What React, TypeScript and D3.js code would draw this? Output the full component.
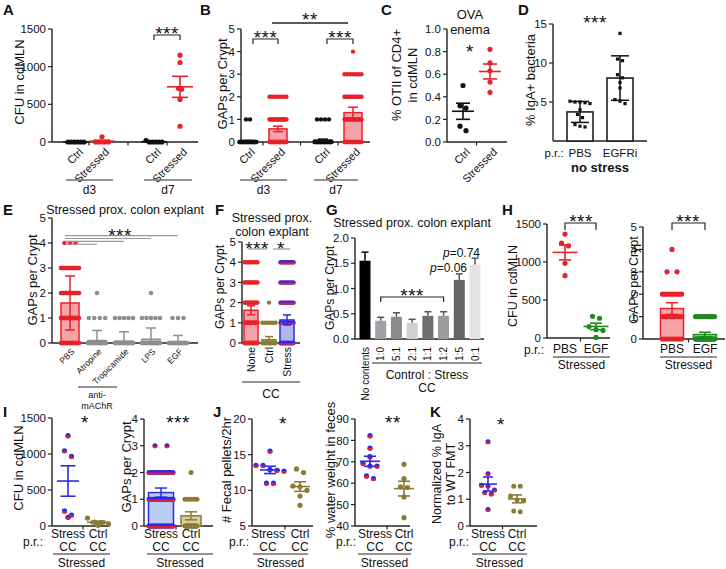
import React from "react";
import * as d3 from "d3";

// ---------------- data ----------------
// A: CFU in cdMLN
const aCategories = ["Ctrl", "Stressed", "Ctrl", "Stressed"];
const aDays = ["d3", "d7"];
const aCtrlD3 = [0, 0, 0, 0, 0, 0];
const aStressedD3 = [70, 0, 0, 0, 0, 0];
const aCtrlD7 = [20, 0, 0, 0, 0, 0];
const aStressedD7 = [1153, 1055, 712, 700, 565, 209];
const aTicks = [0, 500, 1000, 1500];

// B: GAPs per crypt (number of crypts at 0,1,2,... GAPs)
const bCategories = ["Ctrl", "Stressed", "Ctrl", "Stressed"];
const bCtrlD3Counts = [30, 2];
const bStressedD3Counts = [30, 18, 8];
const bCtrlD7Counts = [30, 4];
const bStressedD7Counts = [25, 20, 10, 7, 1];
const bMeans = [0.04, 0.58, 0.08, 1.3];
const bSem = [0.03, 0.12, 0.05, 0.24];
const bTicks = [0, 1, 2, 3, 4, 5];

// C: % OTII of CD4+
const cCategories = ["Ctrl", "Stressed"];
const cCtrl = [0.5, 0.32, 0.3, 0.14, 0.1];
const cStressed = [0.82, 0.7, 0.63, 0.53, 0.44];
const cTicks = [0, 0.2, 0.4, 0.6, 0.8, 1.0];

// D: % IgA+ bacteria
const dCategories = ["PBS", "EGFRi"];
const dPBS = [5.1, 5.0, 5.0, 4.9, 4.8, 4.0, 3.4, 3.0, 2.1, 1.9, 1.8];
const dEGFRi = [13.8, 10.5, 10.3, 8.5, 8.1, 7.5, 6.8, 5.3, 5.1, 4.8];
const dTicks = [5, 10, 15];

// E: explant treatments
const eCategories = ["PBS", "Atropine", "Tropicamide", "LPS", "EGF"];
const eCounts = [[30, 30, 20, 20, 3], [30, 4, 1], [30, 5], [30, 5, 1], [30, 3]];
const eMeans = [1.6, 0.1, 0.07, 0.15, 0.05];
const eSD = [1.08, 0.4, 0.38, 0.45, 0.25];
const eTicks = [0, 1, 2, 3, 4, 5];

// F: colon contents
const fCategories = ["None", "Ctrl", "Stress"];
const fCounts = [[30, 20, 15, 10, 8], [30, 6, 1], [25, 10, 10, 8, 8]];
const fMeans = [1.62, 0.16, 1.14];
const fSem = [0.22, 0.16, 0.25];
const fTicks = [0, 1, 2, 3, 4, 5];

// G: mixing ratios
const gCategories = ["No contents", "1:0", "5:1", "2:1", "1:1", "1:2", "1:5", "0:1"];
const gMeans = [1.55, 0.36, 0.44, 0.32, 0.46, 0.46, 1.17, 1.47];
const gSem = [0.17, 0.07, 0.08, 0.07, 0.08, 0.08, 0.12, 0.13];
const gTicks = [0, 0.5, 1.0, 1.5, 2.0];

// H
const hCategories = ["PBS", "EGF"];
const hCfuPBS = [1367, 1248, 1213, 983, 820];
const hCfuEGF = [285, 260, 150, 110, 100, 8];
const hGapCounts = [[8, 8, 7, 2, 1], [22, 10]];
const hGapMeans = [1.36, 0.2];
const hGapSem = [0.26, 0.1];
const hCfuTicks = [0, 500, 1000, 1500];
const hGapTicks = [0, 1, 2, 3, 4, 5];

// I
const iCategories = [["Stress", "CC"], ["Ctrl", "CC"]];
const iCfuStress = [1254, 1045, 966, 209, 153, 121];
const iCfuCtrl = [110, 55, 50, 30, 10];
const iGapCounts = [[20, 15, 15, 2], [20, 5, 1]];
const iGapMeans = [1.25, 0.38];
const iGapSem = [0.17, 0.15];
const iCfuTicks = [0, 500, 1000, 1500];
const iGapTicks = [0, 1, 2, 3, 4];

// J
const jPelletStress = [15.5, 13.5, 13.5, 12.9, 12.8, 12.7, 11, 11];
const jPelletCtrl = [13, 12.5, 10.6, 10.5, 10, 9.2, 7.9];
const jWaterStress = [82.2, 76.4, 72.4, 69.3, 68, 68, 63.4, 62.2];
const jWaterCtrl = [68.8, 62.2, 58.3, 58, 53.6, 43.9];
const jPelletTicks = [5, 10, 15, 20];
const jWaterTicks = [40, 50, 60, 70, 80, 90];

// K
const kStress = [3.15, 1.95, 1.52, 1.5, 1.35, 1.25, 1.2, 0.62];
const kCtrl = [1.49, 1.49, 1.12, 0.97, 0.93, 0.56, 0.53];
const kTicks = [0, 1, 2, 3, 4];

// ---------------- styles ----------------
const FONT = "'Liberation Sans', Arial, Helvetica, sans-serif";
const RED = "#e8212b";
const PINK = "#f5a3a8";
const BLUE = "#2b2bea";
const LAV = "#b4b4f4";
const LBLUE = "#b9ccf2";
const OLIVE = "#8b7b35";
const TAN = "#d7cda0";
const GREEN = "#1f8a1f";
const LGREEN = "#a6daa6";
const GREY = "#8e8e8e";
const LGREY = "#d6d6d6";
const INK = "#111";
const AXC = "#222";
const GLINE = "#6f6f6f";
const gFills = ["#000", "#a0a0a6", "#8c8c8c", "#cfcfcf", "#6e6e6e", "#9c9c9c", "#646464", "#e4e4e4"];

type P = { x: number; y: number };
type Lin = d3.ScaleLinear<number, number>;

function clusterSwarm(vals: number[], y: Lin, cx: number, d: number): P[] {
  const ys = vals.map((v) => y(v)).sort((a, b) => a - b);
  const out: P[] = [];
  let i = 0;
  while (i < ys.length) {
    let j = i + 1;
    while (j < ys.length && ys[j] - ys[i] < d * 0.9) j++;
    const m = j - i;
    for (let k = 0; k < m; k++) out.push({ x: cx + (k - (m - 1) / 2) * d, y: ys[i + k] });
    i = j;
  }
  return out;
}

function rowDots(counts: number[], cx: number, y: Lin, maxW: number, sp: number): P[] {
  const out: P[] = [];
  counts.forEach((n, level) => {
    const w = Math.min((n - 1) * sp, maxW);
    for (let k = 0; k < n; k++) out.push({ x: n > 1 ? cx - w / 2 + (k * w) / (n - 1) : cx, y: y(level) });
  });
  return out;
}

function Dots({ pts, r, color, two }: { pts: P[]; r: number; color: string; two?: boolean }) {
  return (
    <g>
      {pts.map((p, i) =>
        two ? (
          <g key={i}>
            <circle cx={p.x} cy={p.y} r={r} fill={BLUE} />
            <path d={`M${p.x - r},${p.y} A${r},${r} 0 0 0 ${p.x + r},${p.y} Z`} fill={RED} />
          </g>
        ) : (
          <circle key={i} cx={p.x} cy={p.y} r={r} fill={color} />
        )
      )}
    </g>
  );
}

function YAxis({ x, y, ticks, fmt, fs = 11.5 }: { x: number; y: Lin; ticks: number[]; fmt: (t: number) => string; fs?: number }) {
  const [d0, d1] = y.domain();
  return (
    <g>
      <line x1={x} x2={x} y1={y(d0)} y2={y(d1)} stroke={AXC} strokeWidth={1.4} />
      {ticks.map((t, i) => (
        <g key={i}>
          <line x1={x - 4} x2={x} y1={y(t)} y2={y(t)} stroke={AXC} strokeWidth={1.2} />
          <text x={x - 6} y={y(t)} dy="0.36em" textAnchor="end" fontSize={fs}>
            {fmt(t)}
          </text>
        </g>
      ))}
    </g>
  );
}

function XAxis({ x0, x1, y, between }: { x0: number; x1: number; y: number; between: number[] }) {
  return (
    <g>
      <line x1={x0} x2={x1} y1={y} y2={y} stroke={AXC} strokeWidth={1.4} />
      {between.map((b, i) => (
        <line key={i} x1={b} x2={b} y1={y} y2={y + 3.5} stroke={AXC} strokeWidth={1.2} />
      ))}
    </g>
  );
}

function mids(xs: number[]) {
  return xs.slice(1).map((x, i) => (x + xs[i]) / 2);
}

function YLabel({ lines, x, yc, fs = 13, lh = 1.25 }: { lines: string[]; x: number; yc: number; fs?: number; lh?: number }) {
  return (
    <text transform={`translate(${x},${yc}) rotate(-90)`} textAnchor="middle" fontSize={fs}>
      {lines.map((l, i) => (
        <tspan key={i} x={0} dy={i === 0 ? "0.35em" : `${lh}em`}>
          {l}
        </tspan>
      ))}
    </text>
  );
}

function Stars({ text, x, yc, fs = 19 }: { text: string; x: number; yc: number; fs?: number }) {
  return (
    <text x={x} y={yc + 0.57 * fs} textAnchor="middle" fontSize={fs} letterSpacing={0.5}>
      {text}
    </text>
  );
}

function Bracket({ x1, x2, y, drop = 5 }: { x1: number; x2: number; y: number; drop?: number }) {
  return <path d={`M${x1},${y + drop}V${y}H${x2}V${y + drop}`} fill="none" stroke={AXC} strokeWidth={1.2} />;
}

function MeanSem({ vals, cx, y, color, meanW, capW }: { vals: number[]; cx: number; y: Lin; color: string; meanW: number; capW: number }) {
  const m = d3.mean(vals) as number;
  const s = (d3.deviation(vals) || 0) / Math.sqrt(vals.length);
  return (
    <g stroke={color} strokeWidth={1.6}>
      <line x1={cx - meanW / 2} x2={cx + meanW / 2} y1={y(m)} y2={y(m)} />
      <line x1={cx} x2={cx} y1={y(m + s)} y2={y(Math.max(m - s, y.domain()[0]))} />
      <line x1={cx - capW / 2} x2={cx + capW / 2} y1={y(m + s)} y2={y(m + s)} />
      {m - s > y.domain()[0] && <line x1={cx - capW / 2} x2={cx + capW / 2} y1={y(m - s)} y2={y(m - s)} />}
    </g>
  );
}

function Bar({ cx, w, y, mean, stroke, fill }: { cx: number; w: number; y: Lin; mean: number; stroke: string; fill: string }) {
  const y0 = y(y.domain()[0]);
  return (
    <rect x={cx - w / 2} y={y(mean)} width={w} height={Math.max(y0 - y(mean), 0.8)} fill={fill} stroke={stroke} strokeWidth={1.5} />
  );
}

function ErrBar({ cx, capW, y, mean, err, color, both = true }: { cx: number; capW: number; y: Lin; mean: number; err: number; color: string; both?: boolean }) {
  const lo = Math.max(mean - err, y.domain()[0]);
  return (
    <g stroke={color} strokeWidth={1.5}>
      <line x1={cx} x2={cx} y1={y(mean + err)} y2={both ? y(lo) : y(mean)} />
      <line x1={cx - capW / 2} x2={cx + capW / 2} y1={y(mean + err)} y2={y(mean + err)} />
      {both && mean - err > y.domain()[0] && <line x1={cx - capW / 2} x2={cx + capW / 2} y1={y(lo)} y2={y(lo)} />}
    </g>
  );
}

function RotLabel({ x, y, text, angle, fs }: { x: number; y: number; text: string; angle: number; fs: number }) {
  return (
    <text transform={`translate(${x},${y}) rotate(${angle})`} textAnchor="end" fontSize={fs} dy="0.35em">
      {text}
    </text>
  );
}

function GroupLine({ x1, x2, y, label, ly, fs = 12, bold = false }: { x1: number; x2: number; y: number; label: string; ly: number; fs?: number; bold?: boolean }) {
  return (
    <g>
      <line x1={x1} x2={x2} y1={y} y2={y} stroke={GLINE} strokeWidth={1.3} />
      <text x={(x1 + x2) / 2} y={ly} textAnchor="middle" fontSize={fs} fontWeight={bold ? "bold" : "normal"}>
        {label}
      </text>
    </g>
  );
}

function TwoLine({ x, y, lines, fs = 12 }: { x: number; y: number; lines: string[]; fs?: number }) {
  return (
    <text x={x} y={y} textAnchor="middle" fontSize={fs}>
      {lines.map((l, i) => (
        <tspan key={i} x={x} dy={i === 0 ? 0 : "1.1em"}>
          {l}
        </tspan>
      ))}
    </text>
  );
}

function Letter({ x, y, t }: { x: number; y: number; t: string }) {
  return (
    <text x={x} y={y} fontSize={15} fontWeight="bold">
      {t}
    </text>
  );
}

const fmtInt = (t: number) => String(t);
const fmt1 = (t: number) => t.toFixed(1);

export default function App() {
  // ---- A ----
  const aY = d3.scaleLinear().domain([0, 1500]).range([142, 29]);
  const aSlot = d3.scaleLinear().domain([0, 1]).range([76, 102]);
  const aPos = [0, 1, 3, 4].map((s) => aSlot(s));
  const aSeries = [aCtrlD3, aStressedD3, aCtrlD7, aStressedD7];
  const aColors = [INK, RED, INK, RED];

  // ---- B ----
  const bY = d3.scaleLinear().domain([0, 5]).range([142, 29]);
  const bSlot = d3.scaleLinear().domain([0, 1]).range([248, 278]);
  const bPos = [0, 1, 2.5, 3.5].map((s) => bSlot(s));
  const bCounts = [bCtrlD3Counts, bStressedD3Counts, bCtrlD7Counts, bStressedD7Counts];
  const bColors = [INK, RED, INK, RED];
  const bFills = ["#9a9a9a", PINK, "#9a9a9a", PINK];

  // ---- C ----
  const cY = d3.scaleLinear().domain([0, 1]).range([142, 29]);
  const cX = d3.scalePoint<string>().domain(cCategories).range([463, 490]);

  // ---- D ----
  const dY = d3.scaleLinear().domain([0, 15]).range([141, 24]);
  const dX = d3.scalePoint<string>().domain(dCategories).range([580, 620]);
  const dSeries = [dPBS, dEGFRi];

  // ---- E ----
  const eY = d3.scaleLinear().domain([0, 5]).range([343, 218]);
  const eX = d3.scalePoint<string>().domain(eCategories).range([70, 178]);

  // ---- F ----
  const fY = d3.scaleLinear().domain([0, 5]).range([343, 242]);
  const fX = d3.scalePoint<string>().domain(fCategories).range([251, 287]);
  const fColors = [RED, OLIVE, BLUE];
  const fFills = [PINK, TAN, LAV];

  // ---- G ----
  const gY = d3.scaleLinear().domain([0, 2]).range([339, 238]);
  const gX = d3.scalePoint<string>().domain(gCategories).range([365, 475]);

  // ---- H ----
  const hY1 = d3.scaleLinear().domain([0, 1500]).range([338, 224]);
  const hX1 = d3.scalePoint<string>().domain(hCategories).range([565, 596]);
  const hY2 = d3.scaleLinear().domain([0, 5]).range([339, 227]);
  const hX2 = d3.scalePoint<string>().domain(hCategories).range([672, 705]);

  // ---- I ----
  const iKeys = iCategories.map((c) => c.join(" "));
  const iY1 = d3.scaleLinear().domain([0, 1500]).range([526, 418]);
  const iX1 = d3.scalePoint<string>().domain(iKeys).range([68, 98]);
  const iY2 = d3.scaleLinear().domain([0, 4]).range([526, 419]);
  const iX2 = d3.scalePoint<string>().domain(iKeys).range([161, 191]);

  // ---- J ----
  const jY1 = d3.scaleLinear().domain([5, 20]).range([526, 419]);
  const jX1 = d3.scalePoint<string>().domain(iKeys).range([270, 300]);
  const jY2 = d3.scaleLinear().domain([40, 90]).range([526, 419]);
  const jX2 = d3.scalePoint<string>().domain(iKeys).range([370, 404]);

  // ---- K ----
  const kY = d3.scaleLinear().domain([0, 4]).range([526, 419]);
  const kX = d3.scalePoint<string>().domain(iKeys).range([488, 517]);

  return (
    <svg width={726} height={569} style={{ position: "absolute", left: 0, top: 0, background: "#fff" }} fontFamily={FONT} fill={INK}>
      <rect x={0} y={0} width={726} height={569} fill="#fff" />

      {/* ================= A ================= */}
      <Letter x={3} y={15} t="A" />
      <YLabel lines={["CFU in cdMLN"]} x={19} yc={82} />
      <YAxis x={52} y={aY} ticks={aTicks} fmt={fmtInt} />
      <XAxis x0={52} x1={198} y={142} between={mids(aPos)} />
      {aSeries.map((s, i) => (
        <g key={i}>
          <Dots pts={clusterSwarm(s, aY, aPos[i], 3.2)} r={2.6} color={aColors[i]} />
          <MeanSem vals={s} cx={aPos[i]} y={aY} color={aColors[i]} meanW={26} capW={16} />
          <RotLabel x={aPos[i] + 5} y={150} text={aCategories[i]} angle={-45} fs={11} />
        </g>
      ))}
      <Bracket x1={aPos[2]} x2={aPos[3]} y={35} />
      <Stars text="***" x={(aPos[2] + aPos[3]) / 2} yc={29} />
      <GroupLine x1={66} x2={113} y={180} label={aDays[0]} ly={194} />
      <GroupLine x1={144} x2={192} y={180} label={aDays[1]} ly={194} />

      {/* ================= B ================= */}
      <Letter x={200} y={15} t="B" />
      <YLabel lines={["GAPs per Crypt"]} x={222} yc={84} />
      <YAxis x={241} y={bY} ticks={bTicks} fmt={fmtInt} />
      <XAxis x0={241} x1={370} y={142} between={mids(bPos)} />
      {bCounts.map((c, i) => (
        <g key={i}>
          <Bar cx={bPos[i]} w={18} y={bY} mean={bMeans[i]} stroke={bColors[i]} fill={bFills[i]} />
          <Dots pts={rowDots(c, bPos[i], bY, 17, 4)} r={2.2} color={bColors[i]} />
          <ErrBar cx={bPos[i]} capW={10} y={bY} mean={bMeans[i]} err={bSem[i]} color={bColors[i]} />
          <RotLabel x={bPos[i] + 5} y={150} text={bCategories[i]} angle={-45} fs={11} />
        </g>
      ))}
      <Bracket x1={253} x2={bPos[1]} y={39} />
      <Stars text="***" x={(253 + bPos[1]) / 2} yc={33} />
      <Bracket x1={327} x2={bPos[3]} y={39} />
      <Stars text="***" x={(327 + bPos[3]) / 2} yc={33} />
      <line x1={272} x2={348} y1={23} y2={23} stroke={AXC} strokeWidth={1.6} />
      <Stars text="**" x={310} yc={15} />
      <GroupLine x1={240} x2={287} y={180} label={aDays[0]} ly={194} />
      <GroupLine x1={314} x2={358} y={180} label={aDays[1]} ly={194} />

      {/* ================= C ================= */}
      <Letter x={381} y={15} t="C" />
      <text x={470} y={19} textAnchor="middle" fontSize={13}>OVA</text>
      <text x={470} y={34} textAnchor="middle" fontSize={13}>enema</text>
      <YLabel lines={["% OTII of CD4+", "in cdMLN"]} x={396} yc={75} />
      <YAxis x={447} y={cY} ticks={cTicks} fmt={fmt1} />
      <XAxis x0={447} x1={507} y={142} between={mids(cCategories.map((c) => cX(c) as number))} />
      {[cCtrl, cStressed].map((s, i) => {
        const cx = cX(cCategories[i]) as number;
        const col = i === 0 ? INK : RED;
        return (
          <g key={i}>
            <Dots pts={clusterSwarm(s, cY, cx, 6)} r={2.6} color={col} />
            <MeanSem vals={s} cx={cx} y={cY} color={col} meanW={22} capW={14} />
            <RotLabel x={cx + 5} y={150} text={cCategories[i]} angle={-45} fs={11} />
          </g>
        );
      })}
      <Stars text="*" x={470} yc={47} />

      {/* ================= D ================= */}
      <Letter x={518} y={15} t="D" />
      <YLabel lines={["% IgA+ bacteria"]} x={530} yc={80} />
      <YAxis x={553} y={dY} ticks={dTicks} fmt={fmtInt} />
      <line x1={553} x2={647} y1={141} y2={141} stroke={AXC} strokeWidth={1.4} />
      {dSeries.map((s, i) => {
        const cx = dX(dCategories[i]) as number;
        const m = d3.mean(s) as number;
        const sd = d3.deviation(s) as number;
        return (
          <g key={i}>
            <Bar cx={cx} w={26} y={dY} mean={m} stroke={INK} fill="#fff" />
            {clusterSwarm(s, dY, cx, 5).map((p, k) => (
              <rect key={k} x={p.x - 1.6} y={p.y - 1.6} width={3.2} height={3.2} fill={INK} />
            ))}
            <ErrBar cx={cx} capW={18} y={dY} mean={m} err={sd} color={INK} />
            <text x={cx} y={157} textAnchor="middle" fontSize={11.5}>{dCategories[i]}</text>
          </g>
        );
      })}
      <text x={554} y={157} textAnchor="middle" fontSize={11.5}>p.r.:</text>
      <text x={600} y={172} textAnchor="middle" fontSize={13} fontWeight="bold">no stress</text>
      <Stars text="***" x={595} yc={18} />

      {/* ================= E ================= */}
      <Letter x={3} y={215} t="E" />
      <text x={125} y={214} textAnchor="middle" fontSize={12.5}>Stressed prox. colon explant</text>
      <YLabel lines={["GAPs per Crypt"]} x={32} yc={280} />
      <YAxis x={52} y={eY} ticks={eTicks} fmt={fmtInt} />
      <XAxis x0={52} x1={198} y={343} between={[]} />
      {eCategories.map((c, i) => {
        const cx = eX(c) as number;
        const col = i === 0 ? RED : GREY;
        const fill = i === 0 ? PINK : LGREY;
        return (
          <g key={c}>
            <Bar cx={cx} w={18} y={eY} mean={eMeans[i]} stroke={col} fill={fill} />
            <Dots pts={rowDots(eCounts[i], cx, eY, 18, 5.5)} r={2.3} color={col} />
            <ErrBar cx={cx} capW={10} y={eY} mean={eMeans[i]} err={eSD[i]} color={col} />
            <RotLabel x={cx + 3} y={350} text={c} angle={-45} fs={8.5} />
          </g>
        );
      })}
      {eCategories.slice(1).map((c, i) => (
        <line key={c} x1={65} x2={eX(c) as number} y1={244.3 - i * 2.9} y2={244.3 - i * 2.9} stroke="#999" strokeWidth={1.1} />
      ))}
      <Stars text="***" x={120} yc={231} />
      <line x1={78} x2={117} y1={387} y2={387} stroke={GLINE} strokeWidth={1.3} />
      <text x={97} y={398} textAnchor="middle" fontSize={9}>anti-</text>
      <text x={97} y={409} textAnchor="middle" fontSize={9}>mAChR</text>

      {/* ================= F ================= */}
      <Letter x={215} y={215} t="F" />
      <text x={272} y={222} textAnchor="middle" fontSize={12.5}>Stressed prox.</text>
      <text x={272} y={236} textAnchor="middle" fontSize={12.5}>colon explant</text>
      <YLabel lines={["GAPs per Crypt"]} x={220} yc={287} fs={12} />
      <YAxis x={242} y={fY} ticks={fTicks} fmt={fmtInt} />
      <XAxis x0={242} x1={300} y={343} between={[]} />
      {fCategories.map((c, i) => {
        const cx = fX(c) as number;
        return (
          <g key={c}>
            <Bar cx={cx} w={14} y={fY} mean={fMeans[i]} stroke={fColors[i]} fill={fFills[i]} />
            <Dots pts={rowDots(fCounts[i], cx, fY, 13, 4)} r={2.2} color={fColors[i]} two={i === 2} />
            <ErrBar cx={cx} capW={8} y={fY} mean={fMeans[i]} err={fSem[i]} color={fColors[i]} />
            <RotLabel x={cx} y={347} text={c} angle={-90} fs={10.5} />
          </g>
        );
      })}
      <line x1={248} x2={267} y1={249} y2={249} stroke="#999" strokeWidth={1.3} />
      <Stars text="***" x={257} yc={244} />
      <line x1={273} x2={290} y1={249} y2={249} stroke="#999" strokeWidth={1.3} />
      <Stars text="*" x={281} yc={244} />
      <GroupLine x1={242} x2={300} y={382} label="CC" ly={398} />

      {/* ================= G ================= */}
      <Letter x={326} y={215} t="G" />
      <text x={412} y={227} textAnchor="middle" fontSize={12.5}>Stressed prox. colon explant</text>
      <YLabel lines={["GAPs per Crypt"]} x={330} yc={288} fs={12} />
      <YAxis x={355} y={gY} ticks={gTicks} fmt={fmt1} />
      <XAxis x0={355} x1={484} y={339} between={[]} />
      {gCategories.map((c, i) => {
        const cx = gX(c) as number;
        return (
          <g key={c}>
            <ErrBar cx={cx} capW={7} y={gY} mean={gMeans[i]} err={gSem[i]} color={i === 0 ? "#000" : "#555"} both={false} />
            <rect x={cx - 5.5} y={gY(gMeans[i])} width={11} height={339 - gY(gMeans[i])} fill={gFills[i]} />
            <RotLabel x={cx} y={347} text={c} angle={-90} fs={10} />
          </g>
        );
      })}
      <Bracket x1={gX("1:0") as number} x2={gX("1:2") as number} y={297} />
      <Stars text="***" x={((gX("1:0") as number) + (gX("1:2") as number)) / 2} yc={291} />
      <text x={467} y={272} textAnchor="end" fontSize={12}>
        <tspan fontStyle="italic">p</tspan>=0.06
      </text>
      <text x={480} y={257} textAnchor="end" fontSize={12}>
        <tspan fontStyle="italic">p</tspan>=0.74
      </text>
      <line x1={372} x2={482} y1={363} y2={363} stroke={GLINE} strokeWidth={1.3} />
      <text x={427} y={379} textAnchor="middle" fontSize={12}>Control : Stress</text>
      <text x={427} y={392} textAnchor="middle" fontSize={12}>CC</text>

      {/* ================= H ================= */}
      <Letter x={502} y={215} t="H" />
      <YLabel lines={["CFU in cdMLN"]} x={513} yc={286} fs={12.5} />
      <YAxis x={547} y={hY1} ticks={hCfuTicks} fmt={fmtInt} />
      <XAxis x0={547} x1={610} y={338} between={mids(hCategories.map((c) => hX1(c) as number))} />
      {[hCfuPBS, hCfuEGF].map((s, i) => {
        const cx = hX1(hCategories[i]) as number;
        const col = i === 0 ? RED : GREEN;
        return (
          <g key={i}>
            <Dots pts={clusterSwarm(s, hY1, cx, 7)} r={2.6} color={col} />
            <MeanSem vals={s} cx={cx} y={hY1} color={col} meanW={25} capW={12} />
            <text x={cx} y={353} textAnchor="middle" fontSize={12}>{hCategories[i]}</text>
          </g>
        );
      })}
      <text x={534} y={354} textAnchor="middle" fontSize={12}>p.r.:</text>
      <Bracket x1={hX1("PBS") as number} x2={hX1("EGF") as number} y={223} drop={7} />
      <Stars text="***" x={581} yc={217} />
      <GroupLine x1={553} x2={610} y={357} label="Stressed" ly={369} />

      <YLabel lines={["GAPs per Crypt"]} x={634} yc={280} fs={12.5} />
      <YAxis x={643} y={hY2} ticks={hGapTicks} fmt={fmtInt} />
      <XAxis x0={643} x1={725} y={339} between={mids(hCategories.map((c) => hX2(c) as number))} />
      {hCategories.map((c, i) => {
        const cx = hX2(c) as number;
        const col = i === 0 ? RED : GREEN;
        const fill = i === 0 ? PINK : LGREEN;
        return (
          <g key={c}>
            <Bar cx={cx} w={23} y={hY2} mean={hGapMeans[i]} stroke={col} fill={fill} />
            <Dots pts={rowDots(hGapCounts[i], cx, hY2, 19, 10)} r={2.6} color={col} />
            <ErrBar cx={cx} capW={12} y={hY2} mean={hGapMeans[i]} err={hGapSem[i]} color={col} />
            <text x={cx} y={353} textAnchor="middle" fontSize={12}>{c}</text>
          </g>
        );
      })}
      <Bracket x1={hX2("PBS") as number} x2={hX2("EGF") as number} y={223} drop={7} />
      <Stars text="***" x={688} yc={217} />
      <GroupLine x1={660} x2={717} y={357} label="Stressed" ly={369} />

      {/* ================= I ================= */}
      <Letter x={3} y={417} t="I" />
      <YLabel lines={["CFU in cdMLN"]} x={18} yc={468} />
      <YAxis x={52} y={iY1} ticks={iCfuTicks} fmt={fmtInt} />
      <XAxis x0={52} x1={110} y={526} between={mids(iKeys.map((k) => iX1(k) as number))} />
      {[iCfuStress, iCfuCtrl].map((s, i) => {
        const cx = iX1(iKeys[i]) as number;
        const col = i === 0 ? BLUE : OLIVE;
        return (
          <g key={i}>
            <Dots pts={clusterSwarm(s, iY1, cx, 7)} r={2.6} color={col} two={i === 0} />
            <MeanSem vals={s} cx={cx} y={iY1} color={col} meanW={22} capW={15} />
            <TwoLine x={cx} y={538} lines={iCategories[i]} />
          </g>
        );
      })}
      <text x={33} y={546} textAnchor="middle" fontSize={12}>p.r.:</text>
      <Stars text="*" x={85} yc={418} />
      <GroupLine x1={53} x2={110} y={554} label="Stressed" ly={567} />

      <YLabel lines={["GAPs per Crypt"]} x={126} yc={467} />
      <YAxis x={144} y={iY2} ticks={iGapTicks} fmt={fmtInt} />
      <XAxis x0={144} x1={213} y={526} between={mids(iKeys.map((k) => iX2(k) as number))} />
      {iKeys.map((k, i) => {
        const cx = iX2(k) as number;
        const col = i === 0 ? BLUE : OLIVE;
        const fill = i === 0 ? LBLUE : TAN;
        return (
          <g key={k}>
            <Bar cx={cx} w={i === 0 ? 25 : 20} y={iY2} mean={iGapMeans[i]} stroke={col} fill={fill} />
            <Dots pts={rowDots(iGapCounts[i], cx, iY2, i === 0 ? 24 : 12, 12)} r={2.5} color={col} two={i === 0} />
            <ErrBar cx={cx} capW={12} y={iY2} mean={iGapMeans[i]} err={iGapSem[i]} color={col} />
            <TwoLine x={cx} y={538} lines={iCategories[i]} />
          </g>
        );
      })}
      <Stars text="***" x={178} yc={418} />
      <GroupLine x1={147} x2={213} y={554} label="Stressed" ly={567} />

      {/* ================= J ================= */}
      <Letter x={213} y={417} t="J" />
      <YLabel lines={["# Fecal pellets/2hr"]} x={226} yc={470} />
      <YAxis x={252} y={jY1} ticks={jPelletTicks} fmt={fmtInt} />
      <XAxis x0={252} x1={313} y={526} between={mids(iKeys.map((k) => jX1(k) as number))} />
      {[jPelletStress, jPelletCtrl].map((s, i) => {
        const cx = jX1(iKeys[i]) as number;
        const col = i === 0 ? BLUE : OLIVE;
        return (
          <g key={i}>
            <Dots pts={clusterSwarm(s, jY1, cx, 7)} r={2.6} color={col} two={i === 0} />
            <MeanSem vals={s} cx={cx} y={jY1} color={col} meanW={20} capW={12} />
            <TwoLine x={cx - (i === 0 ? 2 : 0)} y={538} lines={iCategories[i]} />
          </g>
        );
      })}
      <text x={239} y={546} textAnchor="middle" fontSize={12}>p.r.:</text>
      <Stars text="*" x={283} yc={419} />
      <GroupLine x1={253} x2={308} y={554} label="Stressed" ly={567} />

      <YLabel lines={["% water weight in feces"]} x={330} yc={470} />
      <YAxis x={355} y={jY2} ticks={jWaterTicks} fmt={fmtInt} />
      <XAxis x0={355} x1={410} y={526} between={mids(iKeys.map((k) => jX2(k) as number))} />
      {[jWaterStress, jWaterCtrl].map((s, i) => {
        const cx = jX2(iKeys[i]) as number;
        const col = i === 0 ? BLUE : OLIVE;
        return (
          <g key={i}>
            <Dots pts={clusterSwarm(s, jY2, cx, 7)} r={2.6} color={col} two={i === 0} />
            <MeanSem vals={s} cx={cx} y={jY2} color={col} meanW={20} capW={12} />
            <TwoLine x={cx + (i === 0 ? 5 : 0)} y={538} lines={iCategories[i]} />
          </g>
        );
      })}
      <text x={346} y={546} textAnchor="middle" fontSize={12}>p.r.:</text>
      <Stars text="**" x={393} yc={418} />
      <GroupLine x1={358} x2={411} y={554} label="Stressed" ly={567} />

      {/* ================= K ================= */}
      <Letter x={430} y={417} t="K" />
      <YLabel lines={["Normalized % IgA", "to WT FMT"]} x={437} yc={474} fs={12.5} lh={1.05} />
      <YAxis x={470} y={kY} ticks={kTicks} fmt={fmtInt} />
      <XAxis x0={470} x1={537} y={526} between={mids(iKeys.map((k) => kX(k) as number))} />
      {[kStress, kCtrl].map((s, i) => {
        const cx = kX(iKeys[i]) as number;
        const col = i === 0 ? BLUE : OLIVE;
        return (
          <g key={i}>
            <Dots pts={clusterSwarm(s, kY, cx, 6.5)} r={2.5} color={col} two={i === 0} />
            <MeanSem vals={s} cx={cx} y={kY} color={col} meanW={18} capW={10} />
            <TwoLine x={cx} y={538} lines={iCategories[i]} />
          </g>
        );
      })}
      <text x={459} y={546} textAnchor="middle" fontSize={12}>p.r.:</text>
      <Stars text="*" x={501} yc={420} />
      <GroupLine x1={472} x2={527} y={554} label="Stressed" ly={567} />
    </svg>
  );
}
